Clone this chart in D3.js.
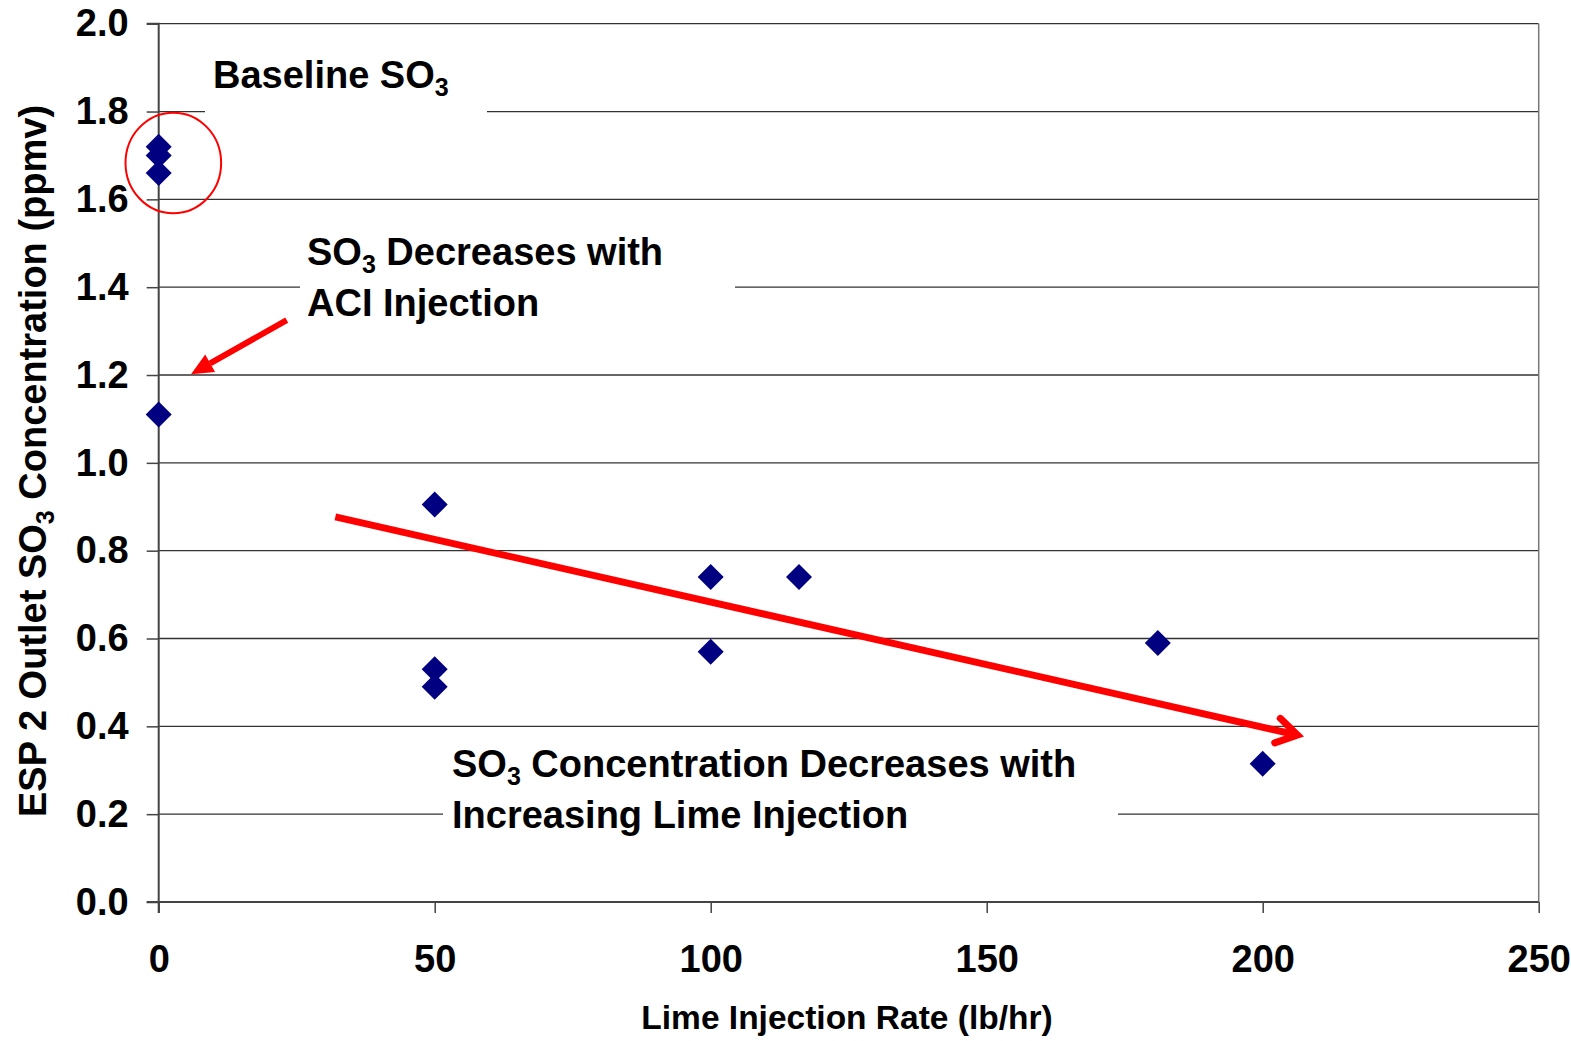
<!DOCTYPE html>
<html>
<head>
<meta charset="utf-8">
<script src="https://cdn.jsdelivr.net/npm/d3@7"></script>
<style>
  html, body { margin: 0; padding: 0; background: #fff; }
  svg { display: block; font-family: "Liberation Sans", Arial, sans-serif; font-weight: bold; }
</style>
</head>
<body>
<svg id="chart" width="1571" height="1041"></svg>
<script>
// ---- data ----
const limeRate = [0, 0, 0, 0, 50, 50, 50, 100, 100, 116, 181, 200];
const so3Conc  = [1.72, 1.70, 1.66, 1.11, 0.905, 0.53, 0.49, 0.74, 0.57, 0.74, 0.59, 0.315];
const xTicks = [0, 50, 100, 150, 200, 250];
const yTicks = [0.0, 0.2, 0.4, 0.6, 0.8, 1.0, 1.2, 1.4, 1.6, 1.8, 2.0];
const xTitle = "Lime Injection Rate (lb/hr)";
// annotation arrows in data coordinates [x1, y1, x2(tip), y2(tip)]
const aciArrow  = [23.2, 1.325, 5.85, 1.202];
const limeArrow = [32, 0.877, 206.3, 0.38];
const baselineCircle = [2.65, 1.683, 8.66, 0.1145]; // cx, cy, rx, ry (data units)

const svg = d3.select("#chart");
const x = d3.scaleLinear().domain([0, 250]).range([158.7, 1538.7]);
const y = d3.scaleLinear().domain([0, 2]).range([902, 23.7]);

// gridlines
svg.append("g").selectAll("line").data(yTicks.filter(d => d > 0)).join("line")
  .attr("x1", x(0)).attr("x2", x(250))
  .attr("y1", d => y(d)).attr("y2", d => y(d))
  .attr("stroke", "#333").attr("stroke-width", 1.3);
// right border
svg.append("line").attr("x1", x(250)).attr("x2", x(250)).attr("y1", y(2)).attr("y2", y(0))
  .attr("stroke", "#777").attr("stroke-width", 1.5);

// white boxes behind annotation texts
const boxes = [[205, 45, 282, 80], [300, 225, 435, 110], [443, 735, 675, 110]];
svg.append("g").selectAll("rect").data(boxes).join("rect")
  .attr("x", d => d[0]).attr("y", d => d[1]).attr("width", d => d[2]).attr("height", d => d[3])
  .attr("fill", "#fff");

// axes
const fmt = d3.format(".1f");
const yAxis = svg.append("g").attr("transform", `translate(${x(0)},0)`)
  .call(d3.axisLeft(y).tickValues(yTicks).tickFormat(fmt).tickSize(12).tickPadding(18));
const xAxis = svg.append("g").attr("transform", `translate(0,${y(0)})`)
  .call(d3.axisBottom(x).tickValues(xTicks).tickSize(11).tickPadding(32));
[yAxis, xAxis].forEach(g => {
  g.select(".domain").attr("stroke", "#444").attr("stroke-width", 2);
  g.selectAll(".tick line").attr("stroke", "#444").attr("stroke-width", 1.5);
  g.selectAll(".tick text").attr("fill", "#000").attr("font-size", 38)
    .attr("font-family", "'Liberation Sans', Arial, sans-serif").attr("font-weight", "bold");
});
yAxis.select(".domain").attr("d", `M-12,${y(2)}H0V${y(0) + 11}`);
xAxis.select(".domain").attr("d", `M${x(0) - 12},0H${x(250)}`);

// axis titles
svg.append("text").attr("x", 847).attr("y", 1029).attr("text-anchor", "middle")
  .attr("font-size", 33.5).text(xTitle);
const yt = svg.append("text").attr("transform", "translate(46,461) rotate(-90)")
  .attr("text-anchor", "middle").attr("font-size", 38);
yt.append("tspan").text("ESP 2 Outlet SO");
yt.append("tspan").attr("font-size", 25).attr("dy", 8).text("3");
yt.append("tspan").attr("dy", -8).text(" Concentration (ppmv)");

// annotation texts
function subText(xp, yp, before, after) {
  const t = svg.append("text").attr("x", xp).attr("y", yp).attr("font-size", 38);
  t.append("tspan").text(before);
  t.append("tspan").attr("font-size", 25).attr("dy", 8).text("3");
  if (after) t.append("tspan").attr("dy", -8).text(after);
  return t;
}
subText(213, 88, "Baseline SO", null);
subText(307, 265, "SO", " Decreases with");
svg.append("text").attr("x", 307).attr("y", 316).attr("font-size", 38).text("ACI Injection");
subText(452, 777, "SO", " Concentration Decreases with");
svg.append("text").attr("x", 452).attr("y", 828).attr("font-size", 38).text("Increasing Lime Injection");

// red circle
svg.append("ellipse")
  .attr("cx", x(baselineCircle[0])).attr("cy", y(baselineCircle[1]))
  .attr("rx", x(baselineCircle[2]) - x(0)).attr("ry", y(0) - y(baselineCircle[3]))
  .attr("fill", "none").attr("stroke", "#ff0000").attr("stroke-width", 2);

// points
const pts = limeRate.map((v, i) => ({ x: v, y: so3Conc[i] }));
svg.append("g").selectAll("path").data(pts).join("path")
  .attr("d", d3.symbol(d3.symbolSquare, 338)())
  .attr("transform", d => `translate(${x(d.x)},${y(d.y)}) rotate(45)`)
  .attr("fill", "#000080");

// arrows
function arrow(a, width, open) {
  const x1 = x(a[0]), y1 = y(a[1]), x2 = x(a[2]), y2 = y(a[3]);
  const ang = Math.atan2(y2 - y1, x2 - x1);
  const g = svg.append("g");
  if (open) {
    g.append("line").attr("x1", x1).attr("y1", y1).attr("x2", x2 - 4 * Math.cos(ang)).attr("y2", y2 - 4 * Math.sin(ang))
      .attr("stroke", "#ff0000").attr("stroke-width", width);
    const L = 24, sp = 0.55;
    const p = d3.path();
    p.moveTo(x2 - L * Math.cos(ang - sp), y2 - L * Math.sin(ang - sp));
    p.lineTo(x2, y2);
    p.lineTo(x2 - L * Math.cos(ang + sp), y2 - L * Math.sin(ang + sp));
    g.append("path").attr("d", p.toString()).attr("fill", "none").attr("stroke", "#ff0000")
      .attr("stroke-width", width).attr("stroke-linecap", "round").attr("stroke-linejoin", "miter");
  } else {
    const L = 22, W = 10;
    const bx = x2 - L * Math.cos(ang), by = y2 - L * Math.sin(ang);
    g.append("line").attr("x1", x1).attr("y1", y1).attr("x2", bx).attr("y2", by)
      .attr("stroke", "#ff0000").attr("stroke-width", 6);
    g.append("path").attr("d",
      `M${x2},${y2}L${bx + W * Math.sin(ang)},${by - W * Math.cos(ang)}L${bx - W * Math.sin(ang)},${by + W * Math.cos(ang)}Z`)
      .attr("fill", "#ff0000");
  }
}
arrow(aciArrow, 6, false);
arrow(limeArrow, 7, true);
</script>
</body>
</html>
